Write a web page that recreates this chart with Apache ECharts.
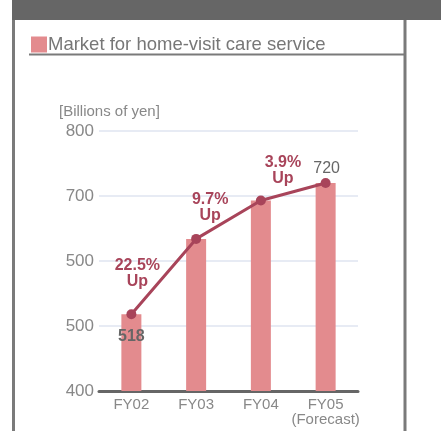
<!DOCTYPE html>
<html>
<head>
<meta charset="utf-8">
<script src="https://cdn.jsdelivr.net/npm/echarts@6/dist/echarts.min.js"></script>
<style>
  html, body { margin: 0; padding: 0; background: #fff; }
  #chart { width: 441px; height: 431px; }
</style>
</head>
<body>
<div id="chart"></div>
<script>
// Market size, billions of yen
const categories = ['FY02', 'FY03', 'FY04', 'FY05\n(Forecast)'];
const marketValues = [518, 634, 693, 720];
// Year-on-year growth shown beside each step of the trend line
const growthLabels = ['22.5%\nUp', '9.7%\nUp', '3.9%\nUp'];
// Y axis tick texts, as printed on the axis
const yTickValues = [400, 500, 600, 700, 800];
const yTickLabels = ['400', '500', '500', '700', '800'];

const FONT = '"Liberation Sans", Arial, Helvetica, sans-serif';
const BAR = '#e38b8e';
const LINE = '#a8445a';
const GREY = '#7a7a7a';

const chart = echarts.init(document.getElementById('chart'), null, { renderer: 'canvas' });

const growthOffsets = [[6, -20], [14, -10], [22, -9]];
const lineData = marketValues.map((v, i) => {
  if (i < growthLabels.length) {
    return {
      value: v,
      label: {
        show: true, position: 'top', distance: 0, offset: growthOffsets[i],
        formatter: growthLabels[i], color: LINE, fontWeight: 'bold',
        fontSize: 16, lineHeight: 16, fontFamily: FONT
      }
    };
  }
  return {
    value: v,
    label: {
      show: true, position: 'top', distance: 0, offset: [1, -1],
      formatter: String(v), color: '#666', fontSize: 16, fontFamily: FONT
    }
  };
});

const barData = marketValues.map((v, i) => i === 0 ? {
  value: v,
  label: {
    show: true, position: 'insideTop', distance: 14,
    formatter: String(v), color: '#666', fontWeight: 'bold',
    fontSize: 16, fontFamily: FONT
  }
} : v);

chart.setOption({
  animation: false,
  textStyle: { fontFamily: FONT },
  title: {
    text: '[Billions of yen]',
    left: 59, top: 104, padding: 0,
    textStyle: { color: '#888', fontSize: 15, fontWeight: 'normal', fontFamily: FONT }
  },
  legend: {
    data: ['Market for home-visit care service'],
    left: 26, top: 30,
    icon: 'rect', itemWidth: 16, itemHeight: 16,
    textStyle: { color: '#777', fontSize: 18.5, fontFamily: FONT, padding: [0, 0, 0, -4] }
  },
  grid: { left: 99, right: 83, top: 131, bottom: 40, containLabel: false },
  xAxis: {
    type: 'category',
    data: categories,
    axisTick: { show: false },
    axisLine: { lineStyle: { color: '#666', width: 3 } },
    axisLabel: { interval: 0, color: '#888', fontSize: 15, lineHeight: 15, margin: 6, fontFamily: FONT }
  },
  yAxis: {
    type: 'value',
    min: 400, max: 800, interval: 100,
    axisLine: { show: false },
    axisTick: { show: false },
    splitLine: { lineStyle: { color: '#dfe4f1', width: 1.5 } },
    axisLabel: {
      color: '#888', fontSize: 17, margin: 5, fontFamily: FONT,
      formatter: v => yTickLabels[yTickValues.indexOf(v)]
    }
  },
  series: [
    {
      name: 'Market for home-visit care service',
      type: 'bar',
      data: barData,
      barWidth: 20,
      itemStyle: { color: BAR },
      z: 2
    },
    {
      name: 'trend',
      type: 'line',
      data: lineData,
      symbol: 'circle',
      symbolSize: 10,
      lineStyle: { color: LINE, width: 3 },
      itemStyle: { color: LINE },
      z: 3
    }
  ],
  graphic: [
    { type: 'rect', shape: { x: 12, y: 0, width: 429, height: 20 }, style: { fill: '#666' } },
    { type: 'line', shape: { x1: 13.5, y1: 20, x2: 13.5, y2: 431 }, style: { stroke: GREY, lineWidth: 3 } },
    { type: 'line', shape: { x1: 405, y1: 20, x2: 405, y2: 431 }, style: { stroke: GREY, lineWidth: 3 } },
    { type: 'line', shape: { x1: 29, y1: 54.5, x2: 404, y2: 54.5 }, style: { stroke: GREY, lineWidth: 2 } }
  ]
});
</script>
</body>
</html>
